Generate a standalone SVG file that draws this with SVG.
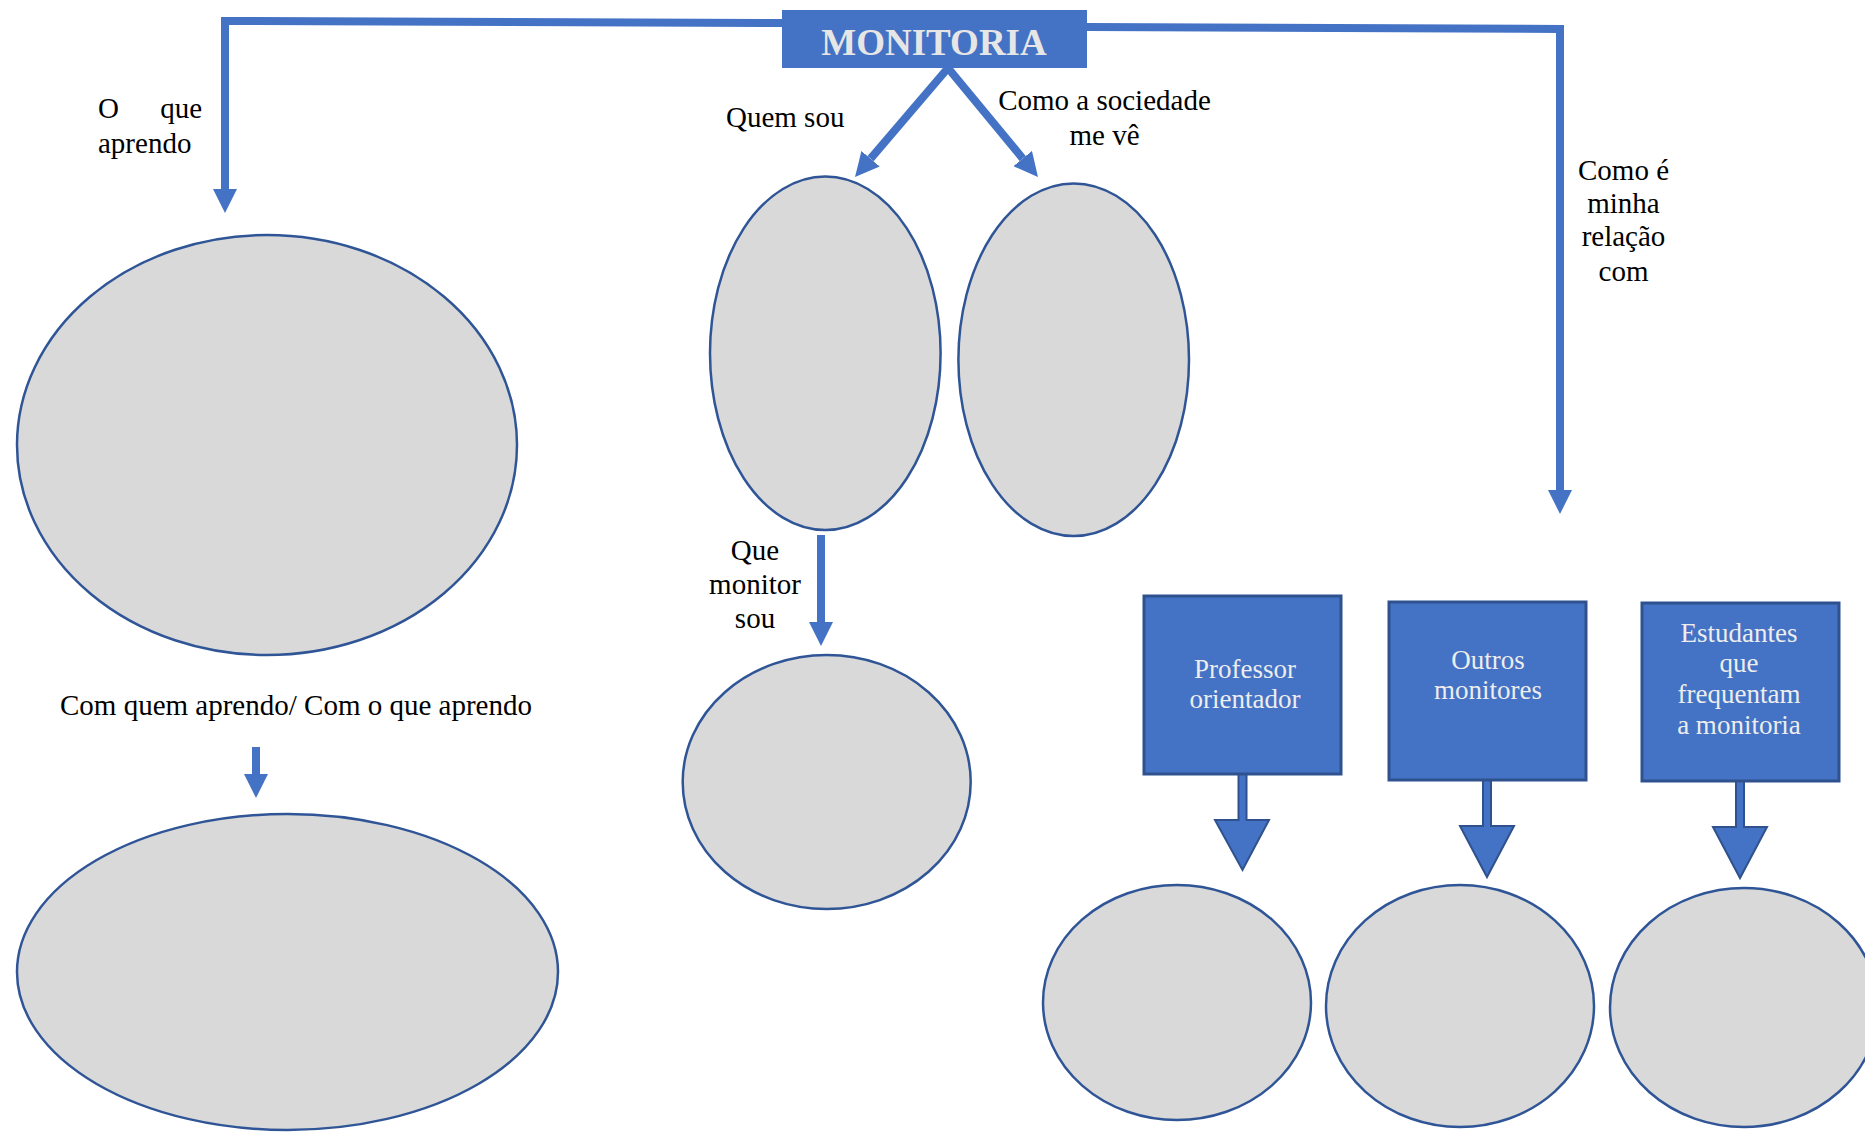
<svg xmlns="http://www.w3.org/2000/svg" width="1865" height="1132" viewBox="0 0 1865 1132">
<defs>
<style>
.lbl{font-family:"Liberation Serif","Times New Roman",serif;font-size:29px;fill:#000}
.bx{fill:#4472C4;stroke:#2F528F;stroke-width:3}
.bxt{font-family:"Liberation Serif","Times New Roman",serif;font-size:27px;fill:#EDEDED;text-anchor:middle}
.ell{fill:#D9D9D9;stroke:#2F5597;stroke-width:2.5}
.con{fill:none;stroke:#4472C4;stroke-width:8;stroke-linejoin:miter}
.blk{fill:#4472C4;stroke:#2F528F;stroke-width:2;stroke-linejoin:miter}
</style>
<marker id="ah" markerUnits="userSpaceOnUse" markerWidth="24" markerHeight="24" refX="0" refY="12" orient="auto">
<path d="M0,0 L24,12 L0,24 z" fill="#4472C4"/>
</marker>
</defs>
<rect width="1865" height="1132" fill="#fff"/>

<g id="connectors">
<path class="con" d="M782,23 L225,21 L225,189" marker-end="url(#ah)"/>
<path class="con" d="M1087,27 L1560,29 L1560,490" marker-end="url(#ah)"/>
<path class="con" d="M948,68 L870.6,158.7" marker-end="url(#ah)"/>
<path class="con" d="M948,68 L1022.7,158.5" marker-end="url(#ah)"/>
<path class="con" d="M821,535 L821,622" marker-end="url(#ah)"/>
<path class="con" d="M256,747 L256,774" marker-end="url(#ah)"/>
<polygon class="blk" points="1238.5,774 1246.5,774 1246.5,820 1269,820 1242.5,870 1215,820 1238.5,820"/>
<polygon class="blk" points="1483,780 1491,780 1491,826 1514,826 1487,877 1460,826 1483,826"/>
<polygon class="blk" points="1736,781 1744,781 1744,827 1767,827 1740,878 1713,827 1736,827"/>
</g>

<g id="monitoria">
<rect x="782" y="10" width="305" height="58" fill="#4472C4"/>
<text x="934" y="55" text-anchor="middle" font-family="'Liberation Serif','Times New Roman',serif" font-size="37" font-weight="bold" fill="#E7E6E6">MONITORIA</text>
</g>

<g id="label-o-que-aprendo">
<text class="lbl" x="98" y="118">O</text>
<text class="lbl" x="202" y="118" text-anchor="end">que</text>
<text class="lbl" x="98" y="153">aprendo</text>
</g>
<g id="label-quem-sou"><text class="lbl" x="726" y="127">Quem sou</text></g>
<g id="label-sociedade">
<text class="lbl" x="1104.5" y="110" text-anchor="middle">Como a sociedade</text>
<text class="lbl" x="1104.5" y="145" text-anchor="middle">me vê</text>
</g>
<g id="label-relacao">
<text class="lbl" x="1623.5" y="180" text-anchor="middle">Como é</text>
<text class="lbl" x="1623.5" y="213" text-anchor="middle">minha</text>
<text class="lbl" x="1623.5" y="246" text-anchor="middle">relação</text>
<text class="lbl" x="1623.5" y="281" text-anchor="middle">com</text>
</g>
<g id="label-que-monitor">
<text class="lbl" x="755" y="560" text-anchor="middle">Que</text>
<text class="lbl" x="755" y="594" text-anchor="middle">monitor</text>
<text class="lbl" x="755" y="628" text-anchor="middle">sou</text>
</g>
<g id="label-com-quem"><text class="lbl" x="296" y="715" text-anchor="middle">Com quem aprendo/ Com o que aprendo</text></g>

<g id="ellipse-o-que-aprendo"><ellipse class="ell" cx="267" cy="445" rx="250" ry="210"/></g>
<g id="ellipse-com-quem"><ellipse class="ell" cx="287.5" cy="972" rx="270.5" ry="158"/></g>
<g id="ellipse-quem-sou"><ellipse class="ell" cx="825.3" cy="353.3" rx="115.3" ry="176.7"/></g>
<g id="ellipse-sociedade"><ellipse class="ell" cx="1073.7" cy="359.7" rx="115.3" ry="176.3"/></g>
<g id="ellipse-que-monitor"><ellipse class="ell" cx="826.7" cy="782" rx="144" ry="127"/></g>
<g id="ellipse-professor"><ellipse class="ell" cx="1177" cy="1002.5" rx="134" ry="117.5"/></g>
<g id="ellipse-outros"><ellipse class="ell" cx="1460" cy="1006" rx="134" ry="121"/></g>
<g id="ellipse-estudantes"><ellipse class="ell" cx="1744" cy="1007.5" rx="134" ry="119.5"/></g>

<g id="box-professor">
<rect class="bx" x="1144" y="596" width="197" height="178"/>
<text class="bxt" x="1245" y="678">Professor</text>
<text class="bxt" x="1245" y="708">orientador</text>
</g>
<g id="box-outros">
<rect class="bx" x="1389" y="602" width="197" height="178"/>
<text class="bxt" x="1488" y="669">Outros</text>
<text class="bxt" x="1488" y="699">monitores</text>
</g>
<g id="box-estudantes">
<rect class="bx" x="1642" y="603" width="197" height="178"/>
<text class="bxt" x="1739" y="642">Estudantes</text>
<text class="bxt" x="1739" y="672">que</text>
<text class="bxt" x="1739" y="703">frequentam</text>
<text class="bxt" x="1739" y="734">a monitoria</text>
</g>
</svg>
